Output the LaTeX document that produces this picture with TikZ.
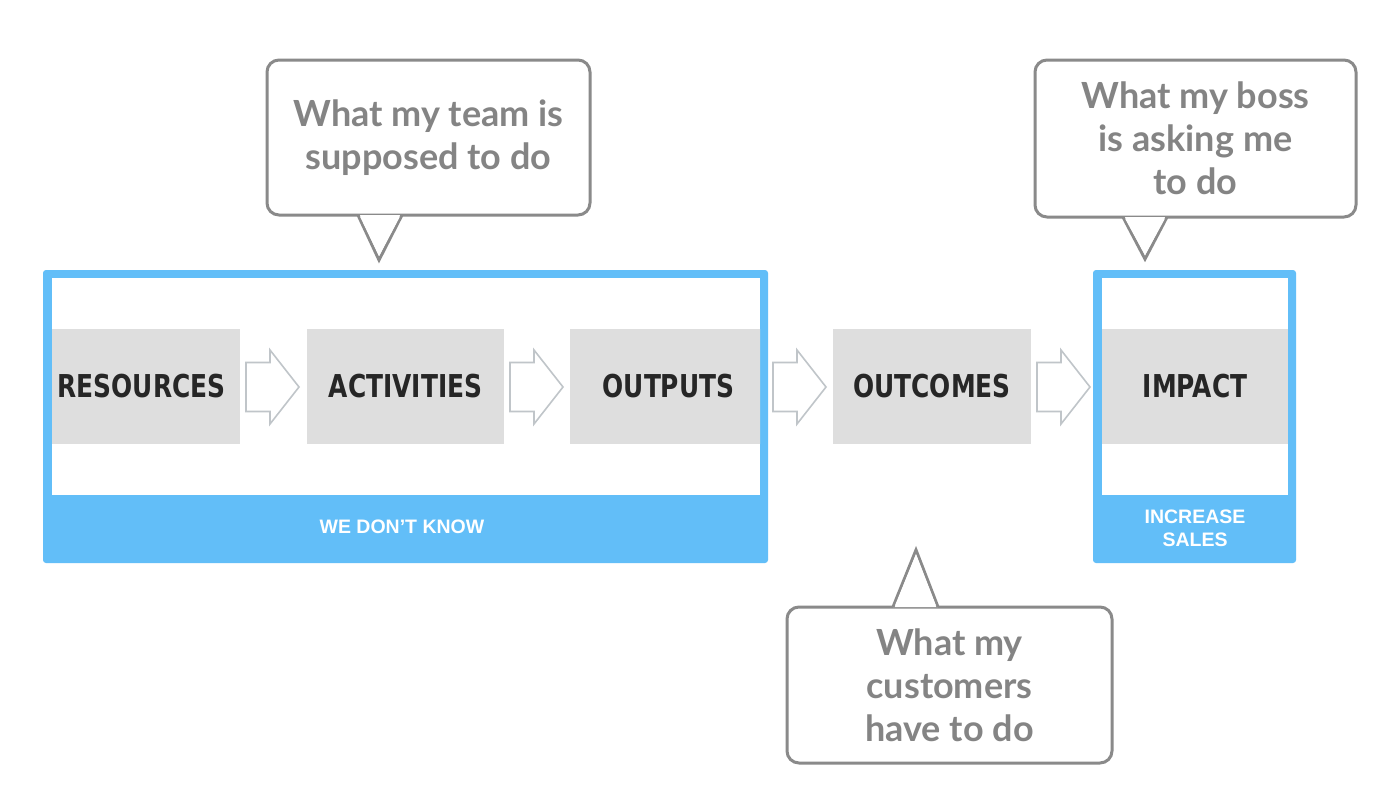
\documentclass[tikz,border=0pt]{standalone}
\usepackage{fontspec}
\setmainfont{Lato}
\newfontfamily\boxfont[FakeStretch=0.79]{DejaVu Sans}
\newfontfamily\labfont{Liberation Sans}
\definecolor{skyblue}{RGB}{98,190,248}
\definecolor{boxgray}{RGB}{222,222,222}
\definecolor{boxtext}{RGB}{38,38,38}
\definecolor{callgray}{RGB}{138,138,138}
\definecolor{calltext}{RGB}{132,132,132}
\definecolor{arrowgray}{RGB}{192,197,201}
\tikzset{
  stagebox/.style={fill=boxgray, minimum height=115pt, inner sep=0pt, text=boxtext,
    font=\boxfont\bfseries\fontsize{31.5}{31.5}\selectfont},
  callbox/.style={draw=callgray, line width=3pt, rounded corners=12pt, fill=white,
    align=center, inner sep=0pt, text=calltext, font=\bfseries\fontsize{36}{43}\selectfont},
  calltail/.style={draw=callgray, line width=3pt, fill=white, line join=miter},
  bluelabel/.style={text=white, align=center, font=\labfont\bfseries\fontsize{19.5}{23}\selectfont},
  hollow/.pic={\draw[draw=arrowgray, line width=1.6pt, fill=white, line join=miter]
     (0,-24.5) -- (24,-24.5) -- (24,-37) -- (53,0) -- (24,37) -- (24,24.5) -- (0,24.5) -- cycle;}
}
\begin{document}
\begin{tikzpicture}[x=1pt,y=-1pt]
\useasboundingbox (0,0) rectangle (1400,801);
\fill[white] (0,0) rectangle (1400,801);

% left frame
\fill[skyblue, rounded corners=3pt] (43,270) rectangle (768,563);
\fill[white] (52,278) rectangle (760,495);
\node[bluelabel] (wdk) at (402,527) {WE DON’T KNOW};
% right frame
\fill[skyblue, rounded corners=3pt] (1093,270) rectangle (1296,563);
\fill[white] (1102,278) rectangle (1288,495);
\node[bluelabel] (inc) at (1195,528) {INCREASE\\SALES};

\begin{scope}
\clip (52,278) rectangle (760,495);
\node[stagebox, minimum width=197pt] (res) at (141.5,386.5) {RESOURCES};
\node[stagebox, minimum width=197pt] (act) at (405.5,386.5) {ACTIVITIES};
\node[stagebox, minimum width=197pt] (out) at (668.5,386.5) {OUTPUTS};
\end{scope}
\node[stagebox, minimum width=198pt] (oc) at (932,386.5) {OUTCOMES};
\node[stagebox, minimum width=186pt] (imp) at (1195,386.5) {IMPACT};

% hollow arrows
\pic at (246,387) {hollow};
\pic at (510,387) {hollow};
\pic at (773,387) {hollow};
\pic at (1037,387) {hollow};

% callouts
\node[callbox, minimum width=323pt, minimum height=155pt] (c1) at (428.5,137.5)
  {What my team is\\supposed to do};
\draw[calltail] (358,215) -- (379,260) -- (402,215);
\fill[white] (360,216.5) -- (379,256) -- (400,216.5) -- cycle;

\node[callbox, minimum width=321pt, minimum height=157pt] (c2) at (1195.5,138.5)
  {What my boss\\is asking me\\to do};
\draw[calltail] (1123,217) -- (1145,259) -- (1167,217);
\fill[white] (1125,218.5) -- (1145,255) -- (1165,218.5) -- cycle;

\node[callbox, minimum width=325pt, minimum height=156pt] (c3) at (949.5,685)
  {What my\\customers\\have to do};
\draw[calltail] (893,607) -- (916,550) -- (938,607);
\fill[white] (895,605.5) -- (916,554) -- (936,605.5) -- cycle;
\end{tikzpicture}
\end{document}
